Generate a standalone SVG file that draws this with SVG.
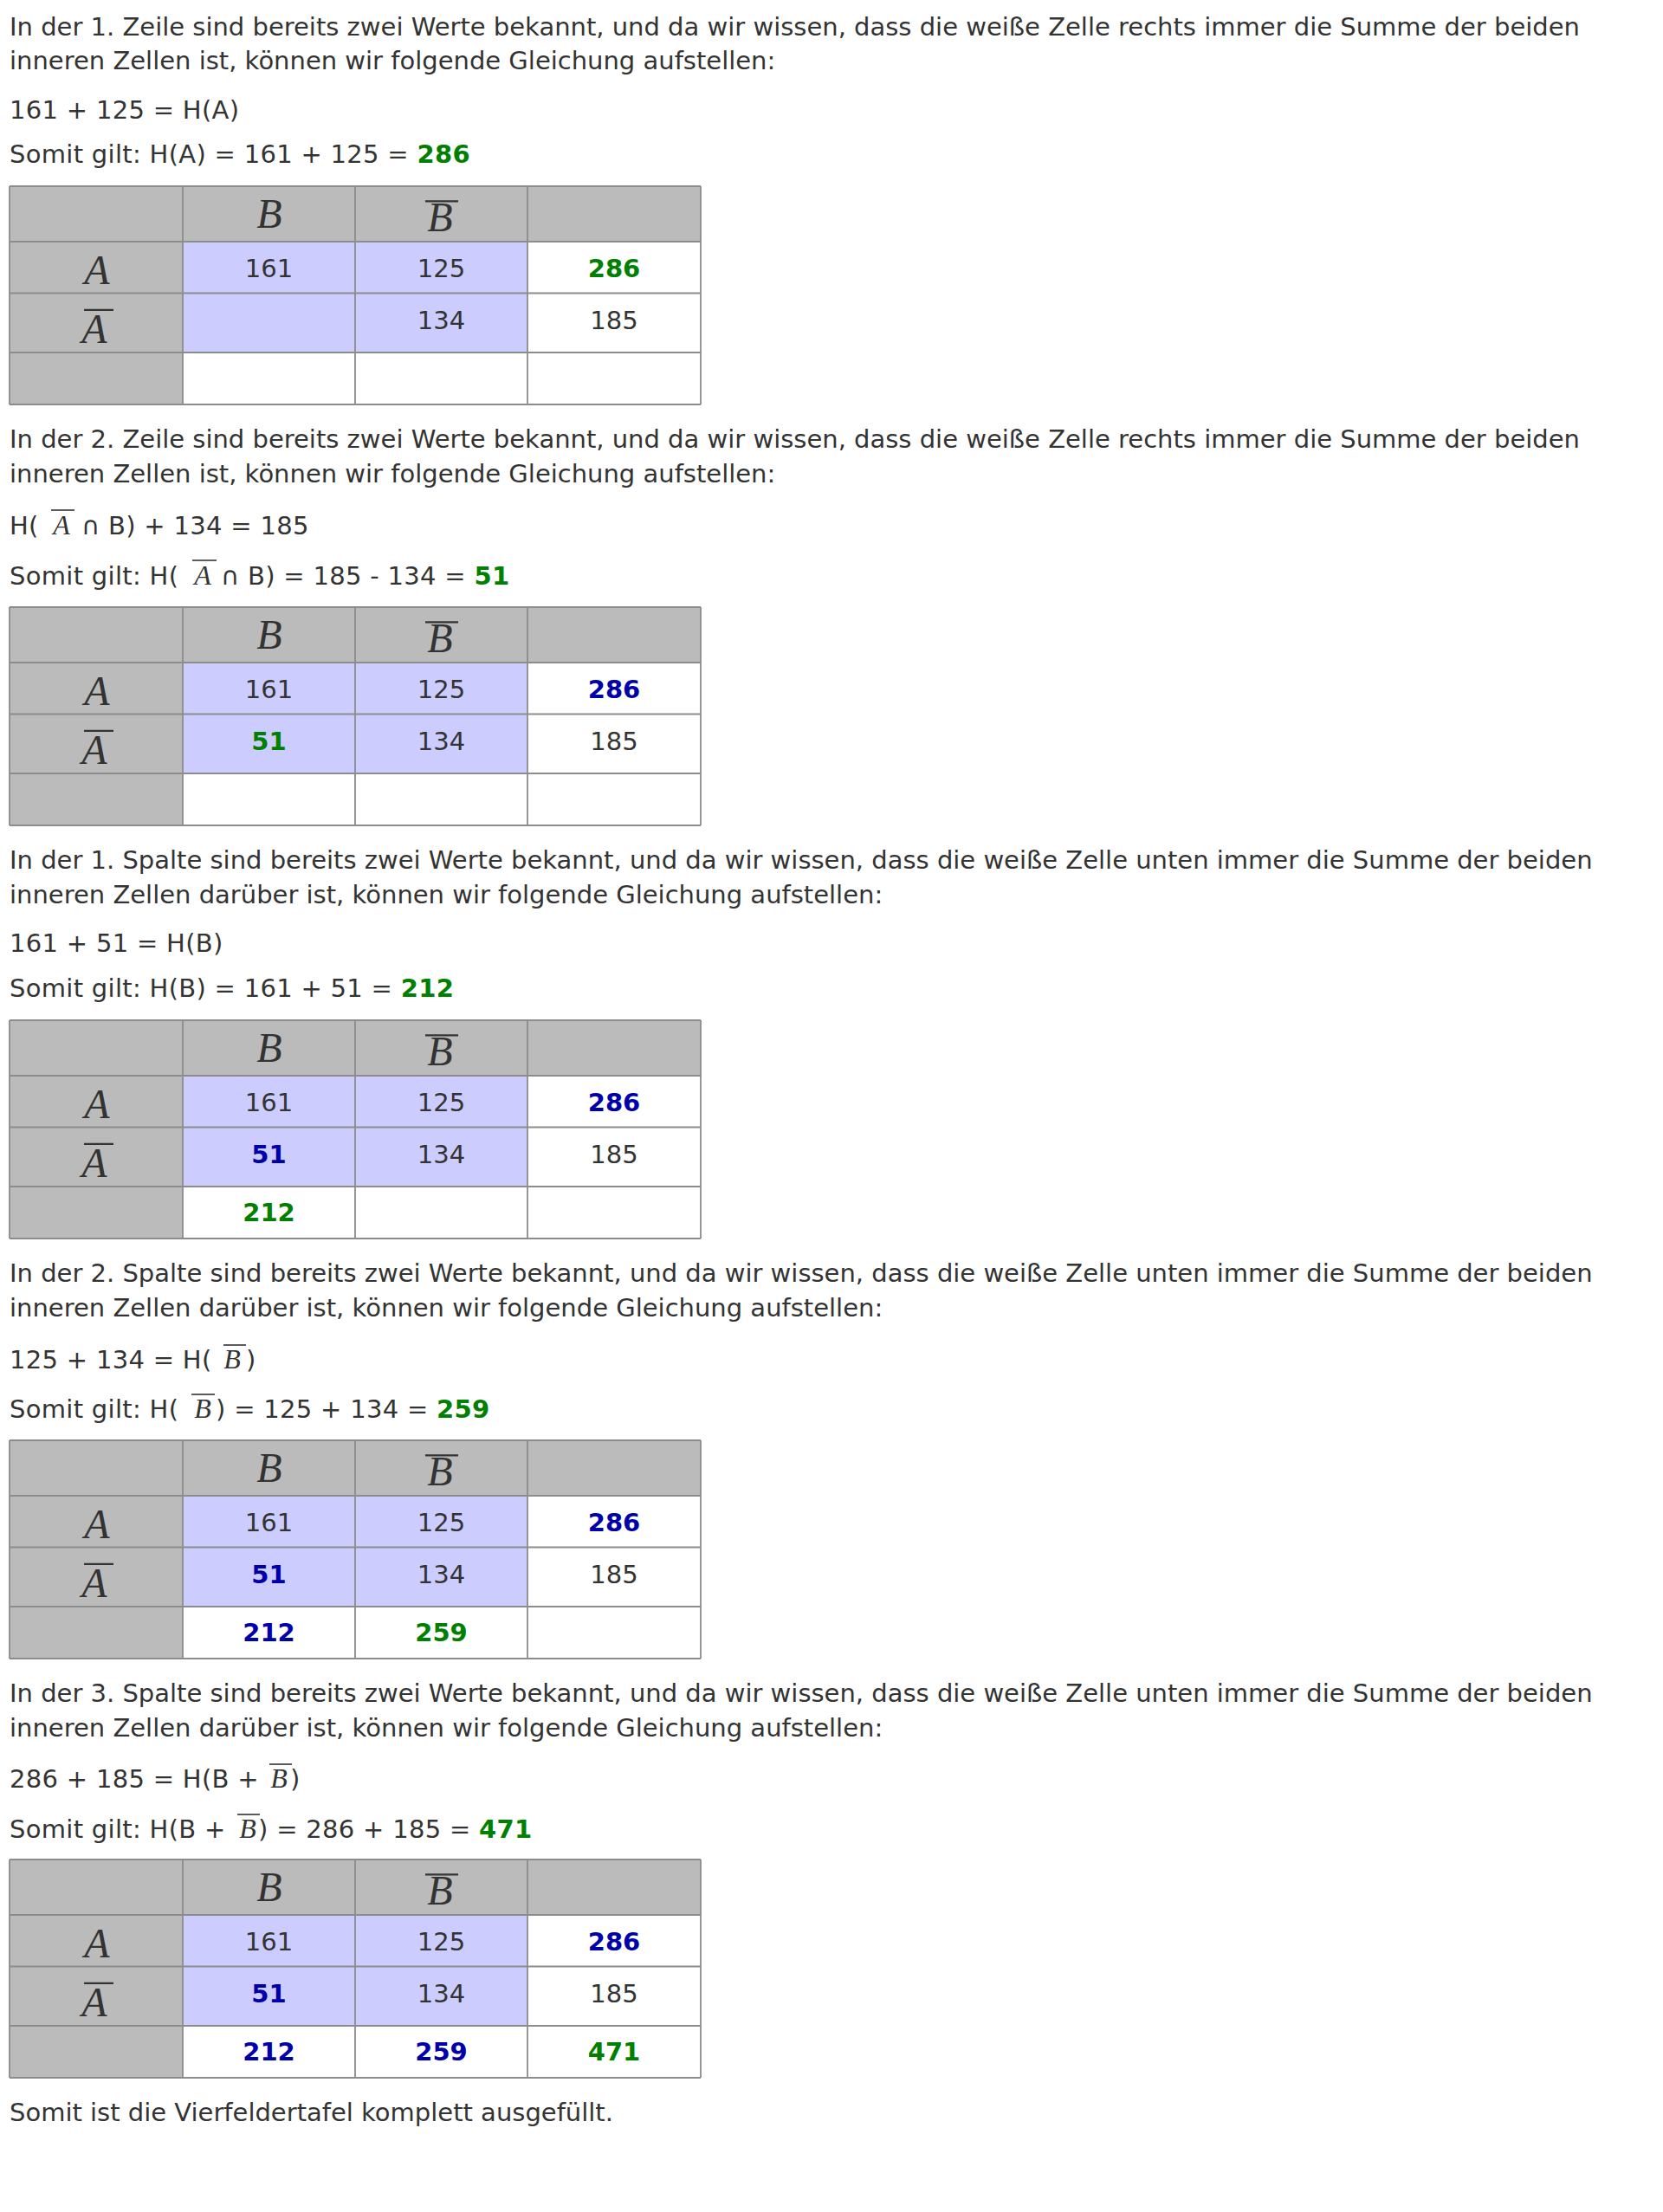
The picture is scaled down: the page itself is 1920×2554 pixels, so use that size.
<svg xmlns="http://www.w3.org/2000/svg" width="1920" height="2554" viewBox="0 0 1920 2554">
<style>
.t{font-family:"DejaVu Sans","Noto Sans",sans-serif;font-size:29px;fill:#333}
.e{letter-spacing:0.3px}
.n{font-family:"DejaVu Sans","Noto Sans",sans-serif;font-size:29px;fill:#333;text-anchor:middle}
.g{fill:#008000;font-weight:bold}
.b{fill:#0000aa;font-weight:bold}
.m{font-family:"Liberation Serif","DejaVu Serif",serif;font-style:italic;font-size:48px;fill:#333;text-anchor:middle}
.mi{font-family:"Liberation Serif","DejaVu Serif",serif;font-style:italic;font-size:32px;fill:#333;text-anchor:middle}
.ol{stroke:#333;stroke-width:2.2}
.oli{stroke:#333;stroke-width:1.6}
.hd{fill:#bbbbbb}
.lv{fill:#ccccff}
.wh{fill:#ffffff}
.grid{stroke:#8c8c8c;stroke-width:1.8;fill:none}
</style>
<defs>
<g id="tbl">
<rect class="hd" x="11" y="0" width="798" height="64"/>
<rect class="hd" x="11" y="64" width="200" height="188"/>
<rect class="lv" x="211" y="64" width="398" height="128"/>
<rect class="wh" x="609" y="64" width="200" height="128"/>
<rect class="wh" x="211" y="192" width="598" height="60"/>
<path class="grid" d="M11 0H809M11 64H809M11 123.5H809M11 192H809M11 252H809M11 0V252M211 0V252M410 0V252M609 0V252M809 0V252"/>
<text class="m" x="311" y="48.4">B</text>
<text class="m" x="508" y="51.7">B</text>
<line class="ol" x1="491" y1="17.4" x2="529" y2="17.4"/>
<text class="m" x="112" y="112.8">A</text>
<text class="m" x="109" y="181.3">A</text>
<line class="ol" x1="97" y1="142.9" x2="131" y2="142.9"/>
<text class="n" x="310.5" y="104.5">161</text>
<text class="n" x="509.5" y="104.5">125</text>
<text class="n" x="509.5" y="165">134</text>
<text class="n" x="709" y="165">185</text>
</g>
</defs>

<g id="section1">
<text class="t" x="11" y="40.5">In der 1. Zeile sind bereits zwei Werte bekannt, und da wir wissen, dass die weiße Zelle rechts immer die Summe der beiden</text>
<text class="t" x="11" y="80">inneren Zellen ist, können wir folgende Gleichung aufstellen:</text>
<text class="t e" x="11" y="136.5">161 + 125 = H(A)</text>
<text class="t e" x="11" y="188">Somit gilt: H(A) = 161 + 125 = <tspan class="g">286</tspan></text>
<g id="table1" transform="translate(0,215)">
<use href="#tbl"/>
<text class="n g" x="709" y="104.5">286</text>
</g>
</g>

<g id="section2">
<text class="t" x="11" y="517">In der 2. Zeile sind bereits zwei Werte bekannt, und da wir wissen, dass die weiße Zelle rechts immer die Summe der beiden</text>
<text class="t" x="11" y="556.5">inneren Zellen ist, können wir folgende Gleichung aufstellen:</text>
<text class="t e" x="11" y="617">H(</text>
<text class="mi" x="71" y="617">A</text>
<line class="oli" x1="59" y1="589" x2="86" y2="589"/>
<text class="t e" x="94" y="617">∩ B) + 134 = 185</text>
<text class="t e" x="11" y="675">Somit gilt: H(</text>
<text class="mi" x="234" y="675">A</text>
<line class="oli" x1="222" y1="647" x2="250" y2="647"/>
<text class="t e" x="255" y="675">∩ B) = 185 - 134 = <tspan class="g">51</tspan></text>
<g id="table2" transform="translate(0,701)">
<use href="#tbl"/>
<text class="n b" x="709" y="104.5">286</text>
<text class="n g" x="310.5" y="165">51</text>
</g>
</g>

<g id="section3">
<text class="t" x="11" y="1003">In der 1. Spalte sind bereits zwei Werte bekannt, und da wir wissen, dass die weiße Zelle unten immer die Summe der beiden</text>
<text class="t" x="11" y="1042.5">inneren Zellen darüber ist, können wir folgende Gleichung aufstellen:</text>
<text class="t e" x="11" y="1099">161 + 51 = H(B)</text>
<text class="t e" x="11" y="1151">Somit gilt: H(B) = 161 + 51 = <tspan class="g">212</tspan></text>
<g id="table3" transform="translate(0,1178)">
<use href="#tbl"/>
<text class="n b" x="709" y="104.5">286</text>
<text class="n b" x="310.5" y="165">51</text>
<text class="n g" x="310.5" y="232">212</text>
</g>
</g>

<g id="section4">
<text class="t" x="11" y="1480">In der 2. Spalte sind bereits zwei Werte bekannt, und da wir wissen, dass die weiße Zelle unten immer die Summe der beiden</text>
<text class="t" x="11" y="1519.5">inneren Zellen darüber ist, können wir folgende Gleichung aufstellen:</text>
<text class="t e" x="11" y="1580">125 + 134 = H(</text>
<text class="mi" x="268" y="1580">B</text>
<line class="oli" x1="258" y1="1553" x2="284" y2="1553"/>
<text class="t e" x="284" y="1580">)</text>
<text class="t e" x="11" y="1637">Somit gilt: H(</text>
<text class="mi" x="234" y="1637">B</text>
<line class="oli" x1="221" y1="1610" x2="248" y2="1610"/>
<text class="t e" x="249" y="1637">) = 125 + 134 = <tspan class="g">259</tspan></text>
<g id="table4" transform="translate(0,1663)">
<use href="#tbl"/>
<text class="n b" x="709" y="104.5">286</text>
<text class="n b" x="310.5" y="165">51</text>
<text class="n b" x="310.5" y="232">212</text>
<text class="n g" x="509.5" y="232">259</text>
</g>
</g>

<g id="section5">
<text class="t" x="11" y="1965">In der 3. Spalte sind bereits zwei Werte bekannt, und da wir wissen, dass die weiße Zelle unten immer die Summe der beiden</text>
<text class="t" x="11" y="2004.5">inneren Zellen darüber ist, können wir folgende Gleichung aufstellen:</text>
<text class="t e" x="11" y="2064">286 + 185 = H(B +</text>
<text class="mi" x="322" y="2064">B</text>
<line class="oli" x1="311" y1="2037" x2="337" y2="2037"/>
<text class="t e" x="335" y="2064">)</text>
<text class="t e" x="11" y="2122">Somit gilt: H(B +</text>
<text class="mi" x="286" y="2122">B</text>
<line class="oli" x1="274" y1="2095" x2="300" y2="2095"/>
<text class="t e" x="298" y="2122">) = 286 + 185 = <tspan class="g">471</tspan></text>
<g id="table5" transform="translate(0,2147)">
<use href="#tbl"/>
<text class="n b" x="709" y="104.5">286</text>
<text class="n b" x="310.5" y="165">51</text>
<text class="n b" x="310.5" y="232">212</text>
<text class="n b" x="509.5" y="232">259</text>
<text class="n g" x="709" y="232">471</text>
</g>
</g>

<g id="conclusion">
<text class="t" x="11" y="2449">Somit ist die Vierfeldertafel komplett ausgefüllt.</text>
</g>
</svg>
